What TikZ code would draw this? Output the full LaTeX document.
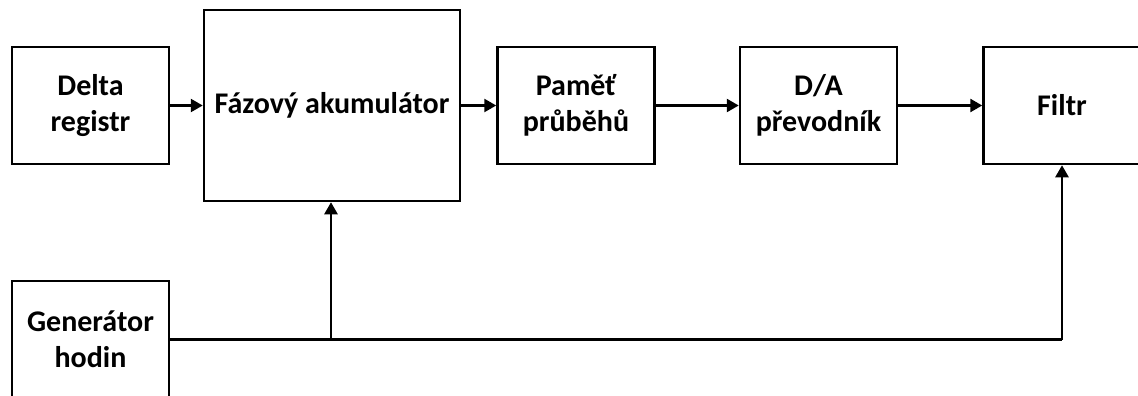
\documentclass[tikz,border=0pt]{standalone}
\usepackage{fontspec}
\setmainfont{Carlito}
\usetikzlibrary{arrows.meta}
\begin{document}
\begin{tikzpicture}[x=1pt,y=-1pt,
  blk/.style={draw=black, line width=2.5pt, fill=white, align=center, inner sep=0pt,
    minimum width=157pt, minimum height=117pt,
    font=\fontsize{30}{36}\selectfont\bfseries},
  conn/.style={line width=2.5pt, -{Triangle[length=12pt,width=13pt]}},
  wire/.style={line width=2.5pt}]
\useasboundingbox (0,0) rectangle (1138,396);
\fill[white] (0,0) rectangle (1138,396);
\clip (0,0) rectangle (1138,396);
\node[blk] (delta) at (90.5,105.5) {Delta\\registr};
\node[blk, minimum width=256pt, minimum height=191pt] (faz) at (332,105.5) {Fázový akumulátor};
\node[blk] (pam) at (576,105.5) {Paměť\\průběhů};
\node[blk] (da) at (818.5,105.5) {D/A\\převodník};
\node[blk] (fil) at (1062,105.5) {Filtr};
\node[blk] (gen) at (90.5,339.5) {Generátor\\hodin};
\coordinate (j1) at (331,339.5);
\coordinate (j2) at (1062,339.5);
\draw[conn] (delta.east) -- (faz.west);
\draw[conn] (faz.east) -- (faz.east -| pam.west);
\draw[conn] (pam.east) -- (da.west);
\draw[conn] (da.east) -- (fil.west);
\draw[wire] (gen.east) -- (j2);
\draw[conn] (j1) -- (j1 |- faz.south);
\draw[conn] (j2) -- (fil.south);
\end{tikzpicture}
\end{document}
